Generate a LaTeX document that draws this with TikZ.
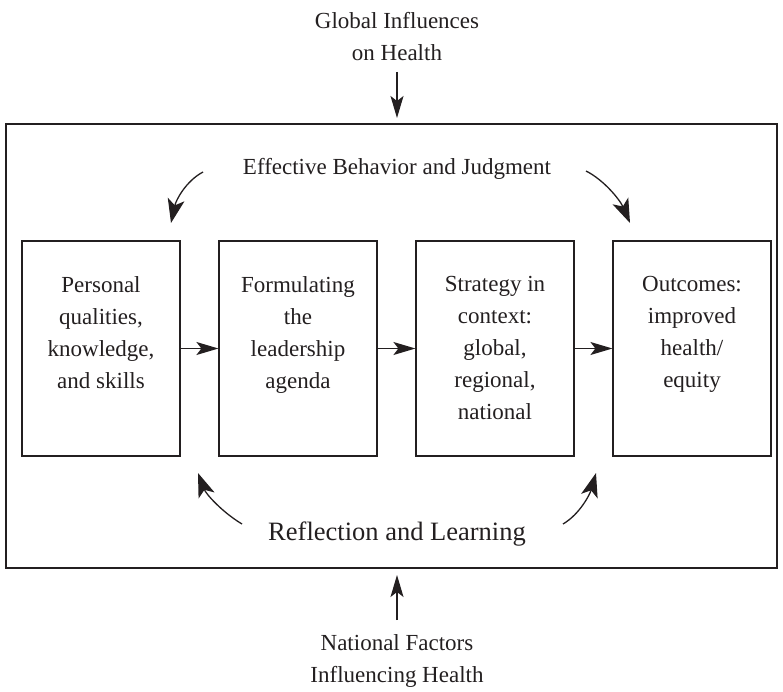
\documentclass[tikz,border=0pt]{standalone}
\usepackage{fontspec}
\setmainfont{Liberation Serif}
\usetikzlibrary{arrows.meta}
\definecolor{ink}{HTML}{231F20}
\begin{document}
\begin{tikzpicture}[x=1pt,y=-1pt,
  every node/.style={text=ink},
  bodytext/.style={font=\fontsize{23}{32}\selectfont, align=center, inner sep=0pt},
  bigtext/.style={font=\fontsize{26.5}{32}\selectfont, inner sep=0pt},
  stagebox/.style={draw=ink, line width=1.2pt, minimum width=158pt, minimum height=215pt, inner sep=0pt},
  outerbox/.style={draw=ink, line width=1.2pt, minimum width=771pt, minimum height=444pt, inner sep=0pt},
  link/.style={draw=ink, line width=1.2pt, -{Stealth[length=22pt,width=13pt,inset=5pt]}},
  sweep/.style={draw=ink, line width=1.3pt, -{Stealth[length=24pt,width=17pt,inset=6pt]}},
]
\useasboundingbox (0,0) rectangle (783,692);

% surrounding frame
\node[outerbox] (frame) at (391.5,346) {};

% external influences
\node[bodytext, anchor=north] (global) at (397,12) {Global Influences\\on Health};
\node[bodytext, anchor=north] (national) at (397,634) {National Factors\\Influencing Health};
\draw[link] (397,72) -- (397,118);
\draw[link] (397,620) -- (397,575);

% the four stages
\node[stagebox] (b1) at (101,348.5) {};
\node[stagebox] (b2) at (298,348.5) {};
\node[stagebox] (b3) at (495,348.5) {};
\node[stagebox] (b4) at (692,348.5) {};

\node[bodytext, anchor=north] (t1) at (b1.north |- 0,276) {Personal\\qualities,\\knowledge,\\and skills};
\node[bodytext, anchor=north] (t2) at (b2.north |- 0,276) {Formulating\\the\\leadership\\agenda};
\node[bodytext, anchor=north] (t3) at (b3.north |- 0,276) {Strategy in\\context:\\global,\\regional,\\national};
\node[bodytext, anchor=north] (t4) at (b4.north |- 0,276) {Outcomes:\\improved\\health/\\equity};

\draw[link] (b1.east) -- (b2.west);
\draw[link] (b2.east) -- (b3.west);
\draw[link] (b3.east) -- (b4.west);

% feedback loops
\node[bodytext, anchor=base] (judg) at (397,175) {Effective Behavior and Judgment};
\node[bigtext, anchor=base] (refl) at (397,540) {Reflection and Learning};

\coordinate (tl0) at (203,172); \coordinate (tl1) at (171,223);
\coordinate (tr0) at (586,171); \coordinate (tr1) at (630,223);
\coordinate (bl0) at (242,524); \coordinate (bl1) at (198,473);
\coordinate (br0) at (563,524); \coordinate (br1) at (596,473);

\draw[sweep] (tl0) .. controls (186,181) and (176,200) .. (tl1);
\draw[sweep] (tr0) .. controls (604,180) and (620,200) .. (tr1);
\draw[sweep] (bl0) .. controls (222,512) and (206,494) .. (bl1);
\draw[sweep] (br0) .. controls (580,514) and (590,494) .. (br1);
\end{tikzpicture}
\end{document}
